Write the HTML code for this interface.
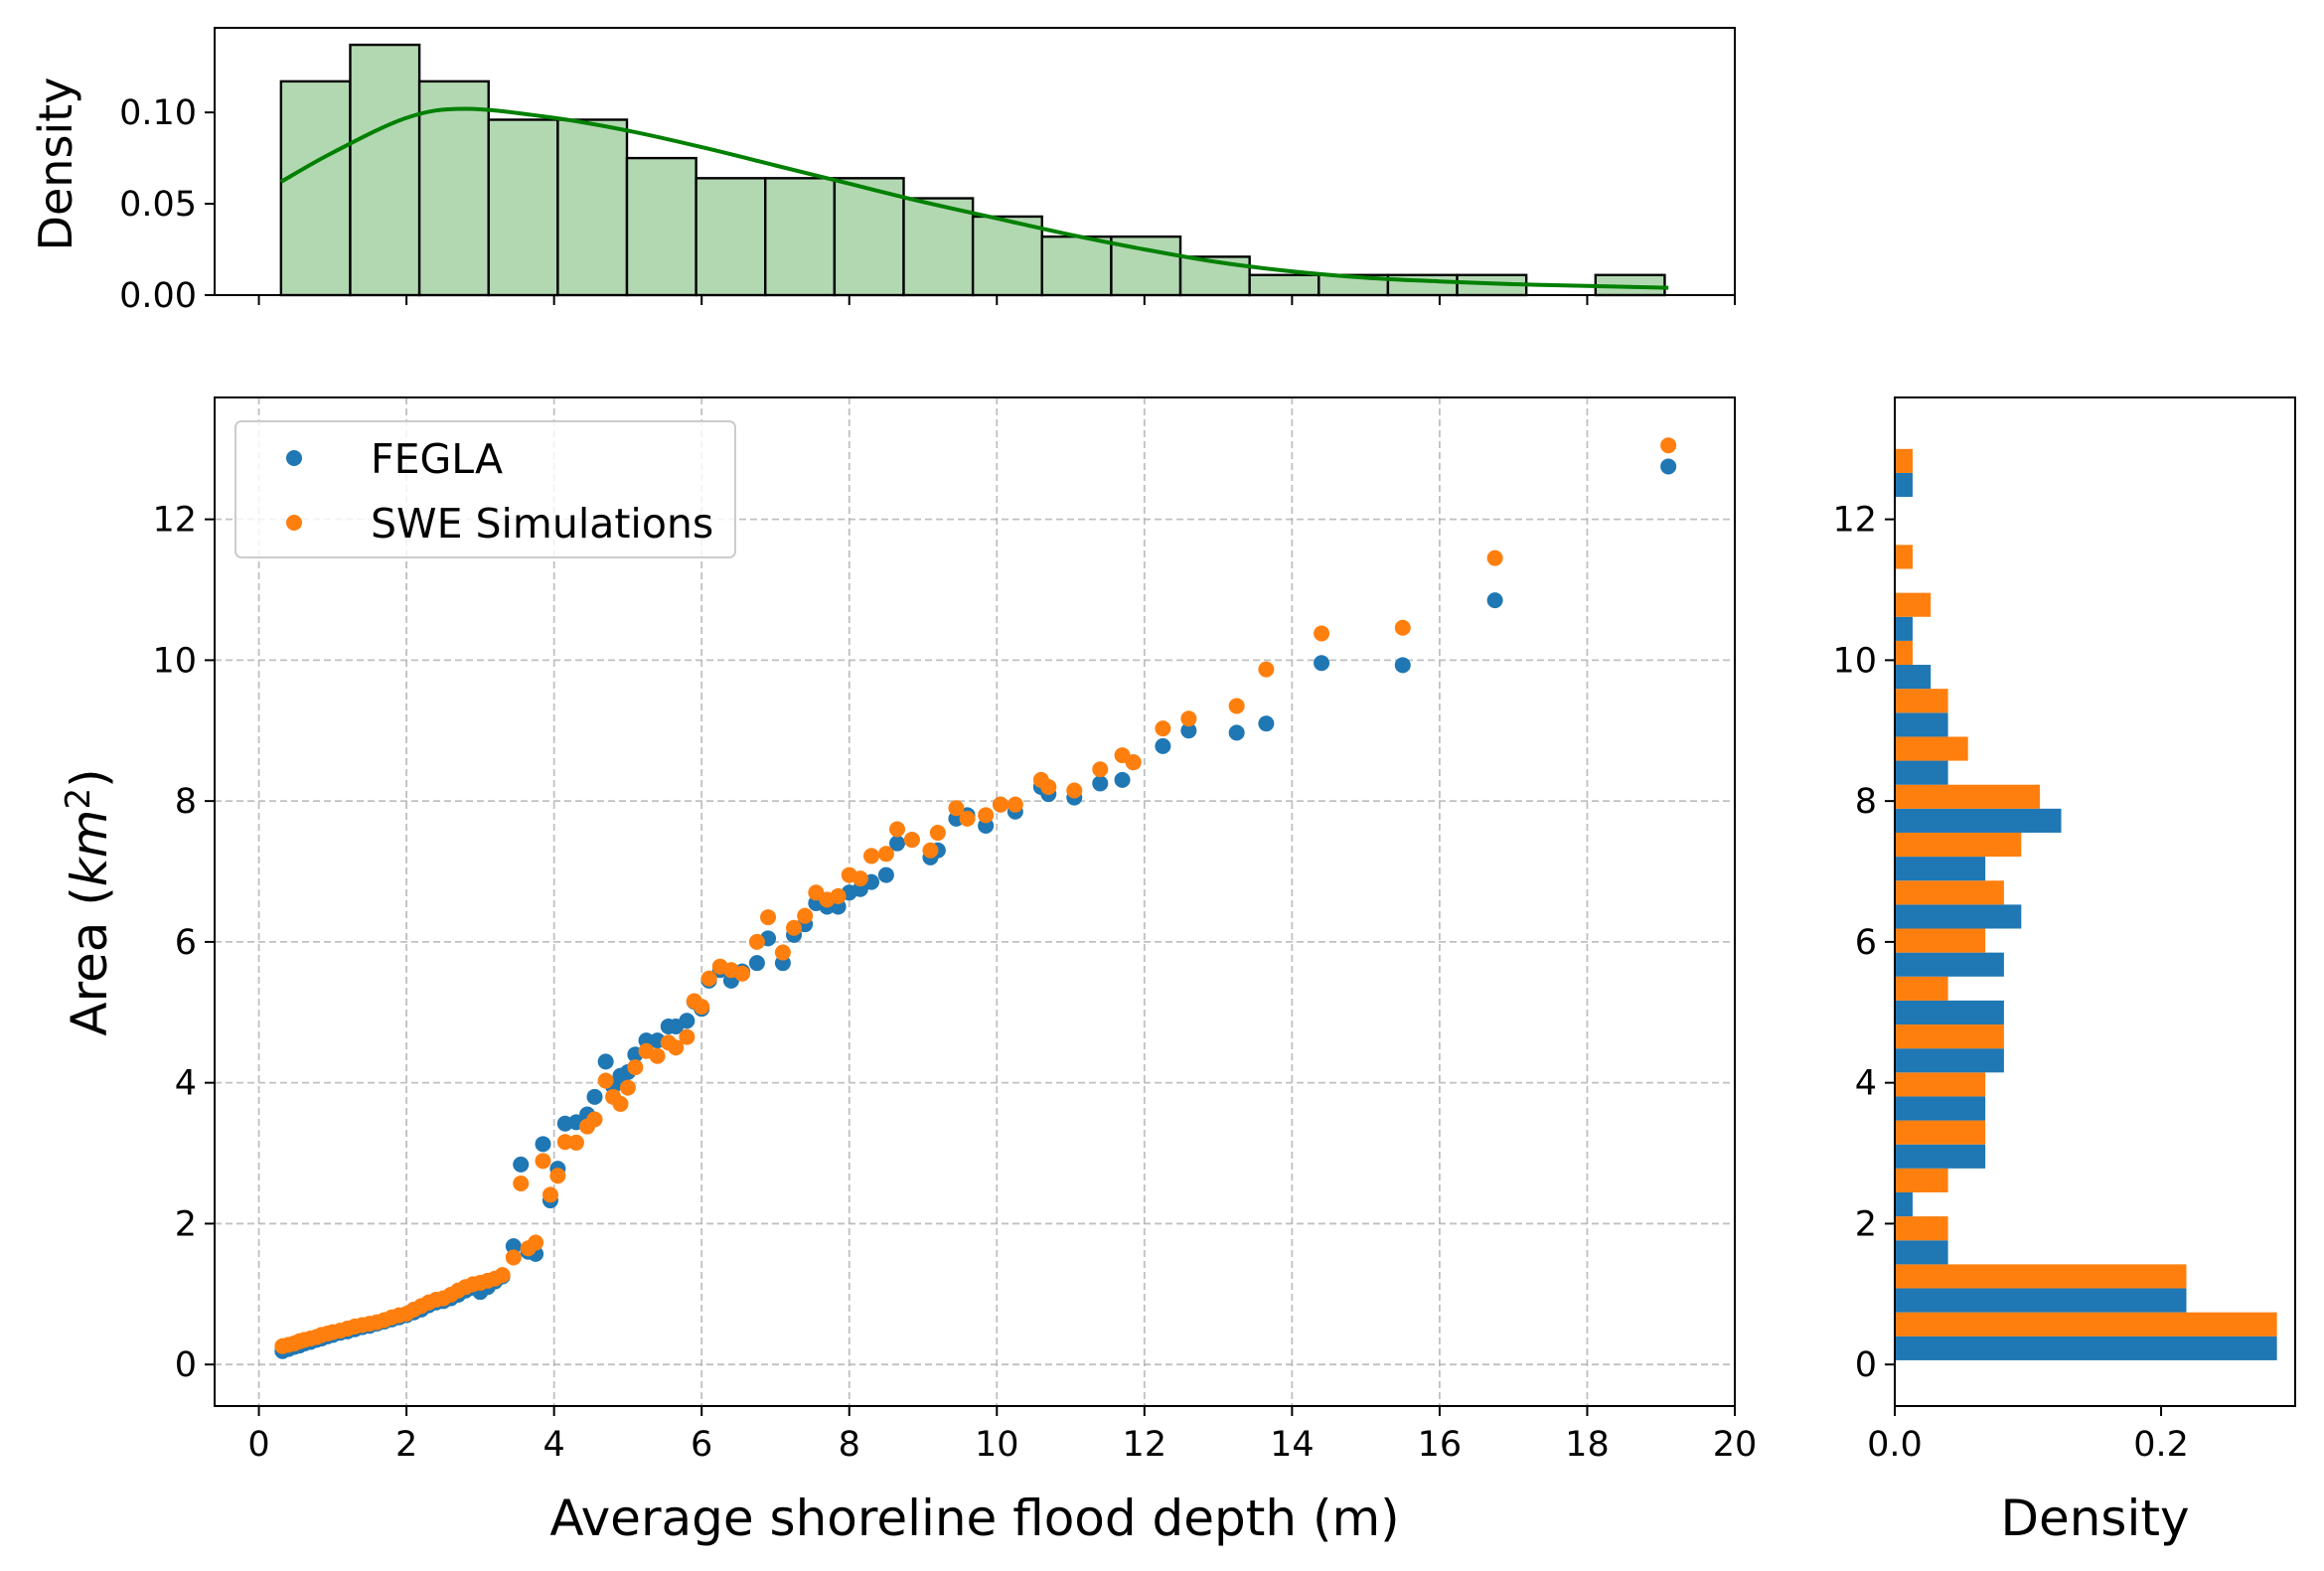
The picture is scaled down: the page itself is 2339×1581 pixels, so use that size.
<!DOCTYPE html>
<html><head><meta charset="utf-8"><style>
html,body{margin:0;padding:0;background:#fff}
svg{display:block;font-family:"DejaVu Sans","Liberation Sans",sans-serif}
</style></head><body>
<svg id="fig" width="2339" height="1581" viewBox="0 0 2339 1581" xmlns="http://www.w3.org/2000/svg">
<rect width="2339" height="1581" fill="#fff"/>
<g id="topPanel"></g>
<g id="mainPanel"></g>
<g id="rightPanel"></g>
</svg>
<script>
// ---- scatter data ----
const xDepth = [0.32,0.4,0.48,0.55,0.62,0.7,0.78,0.85,0.93,1.0,1.1,1.2,1.3,1.4,1.5,1.6,1.7,1.8,1.9,2.0,2.1,2.2,2.3,2.4,2.5,2.6,2.7,2.8,2.9,3.0,3.1,3.2,3.3,
3.45,3.55,3.65,3.75,3.85,3.95,4.05,4.15,4.3,4.45,4.55,4.7,4.8,4.9,5.0,5.1,5.25,5.4,5.55,5.65,5.8,5.9,6.0,6.1,6.25,6.4,6.55,6.75,6.9,7.1,7.25,7.4,7.55,7.7,7.85,8.0,8.15,8.3,8.5,8.65,8.85,9.1,9.2,9.45,9.6,9.85,10.05,10.25,10.6,10.7,11.05,11.4,11.7,11.85,12.25,12.6,13.25,13.65,14.4,15.5,16.75,19.1];
const areaFEGLA = [.19,.22,.25,.27,.3,.32,.35,.37,.4,.42,.45,.47,.5,.53,.55,.58,.61,.64,.67,.7,.74,.78,.84,.88,.9,.94,.99,1.05,1.09,1.03,1.1,1.18,1.25,
1.68,2.84,1.6,1.57,3.13,2.33,2.78,3.42,3.44,3.55,3.8,4.3,3.95,4.1,4.15,4.4,4.6,4.6,4.8,4.8,4.88,5.15,5.05,5.45,5.6,5.45,5.58,5.7,6.05,5.7,6.1,6.25,6.55,6.5,6.5,6.7,6.75,6.85,6.95,7.4,7.45,7.2,7.3,7.75,7.8,7.65,7.95,7.85,8.2,8.1,8.05,8.25,8.3,8.55,8.78,9.0,8.97,9.1,9.96,9.93,10.85,12.75];
const areaSWE = [.26,.28,.3,.33,.35,.37,.39,.42,.44,.46,.48,.51,.54,.56,.58,.6,.63,.67,.7,.72,.78,.83,.88,.92,.94,.99,1.05,1.1,1.14,1.16,1.19,1.22,1.27,
1.52,2.57,1.65,1.73,2.89,2.41,2.68,3.16,3.15,3.38,3.48,4.03,3.8,3.7,3.93,4.22,4.45,4.38,4.57,4.5,4.65,5.16,5.08,5.48,5.65,5.6,5.55,6.0,6.35,5.85,6.2,6.37,6.7,6.6,6.65,6.95,6.9,7.22,7.25,7.6,7.45,7.3,7.55,7.9,7.75,7.8,7.95,7.95,8.3,8.2,8.15,8.45,8.65,8.55,9.03,9.17,9.35,9.87,10.38,10.46,11.45,13.05];
const xTicks = [0,2,4,6,8,10,12,14,16,18,20];
const yTicks = [0,2,4,6,8,10,12];
// ---- top histogram data ----
const topBinStart = 0.3, topBinWidth = 0.9375;
const topDensity = [0.117,0.137,0.117,0.096,0.096,0.075,0.064,0.064,0.064,0.053,0.043,0.032,0.032,0.021,0.011,0.011,0.011,0.011,0,0.011];
const kdeX = [0.3,1,2,2.8,4,5,6,7,8,9,10,11,12,13,14,15,16,17,18,19.1];
const kdeY = [0.062,0.078,0.097,0.102,0.097,0.09,0.081,0.071,0.061,0.051,0.042,0.033,0.025,0.018,0.013,0.0095,0.0075,0.006,0.005,0.004];
const topYTicks = [0,0.05,0.10];
const topYLabels = ["0.00","0.05","0.10"];
// ---- right histogram data ----
const rBinStart = 0.06, rBinWidth = 0.681;
const rFEGLA = [0.287,0.219,0.040,0.0134,0.068,0.068,0.082,0.082,0.082,0.095,0.068,0.125,0.040,0.040,0.027,0.0134,0,0,0.0134];
const rSWE   = [0.287,0.219,0.040,0.040,0.068,0.068,0.082,0.040,0.068,0.082,0.095,0.109,0.055,0.040,0.0134,0.027,0.0134,0,0.0134];
const rXTicks = [0,0.2];
const rXLabels = ["0.0","0.2"];

const NS="http://www.w3.org/2000/svg";
function mk(parent,tag,attrs,text){const e=document.createElementNS(NS,tag);for(const k in attrs)e.setAttribute(k,attrs[k]);if(text!==undefined)e.textContent=text;parent.appendChild(e);return e;}

const MX0=216,MX1=1746,MY0=400,MY1=1415;
const xmin=-0.6,xmax=20,ymin=-0.59,ymax=13.73;
const sx=v=>MX0+(v-xmin)/(xmax-xmin)*(MX1-MX0);
const sy=v=>MY1-(v-ymin)/(ymax-ymin)*(MY1-MY0);
const TY0=28,TY1=297,tymax=0.1463;
const ty=v=>TY1-v/tymax*(TY1-TY0);
const RX0=1907,RX1=2310,rxmax=0.3007;
const rx=v=>RX0+v/rxmax*(RX1-RX0);

const FS=35, LFS=50, GFS=41;
// ===== main scatter =====
const mainG=document.getElementById('mainPanel');
xTicks.forEach(t=>{
  const l=mk(mainG,'line',{x1:sx(t),x2:sx(t),y1:MY0,y2:MY1,stroke:'#b0b0b0','stroke-width':1.8,'stroke-dasharray':'7,4','stroke-opacity':0.8});
  
  
  mk(mainG,'line',{x1:sx(t),x2:sx(t),y1:MY1,y2:MY1+10,stroke:'#000','stroke-width':2});
  const tx=mk(mainG,'text',{x:sx(t),y:MY1+50,'font-size':FS,'text-anchor':'middle'},String(t));
  
  
});
yTicks.forEach(t=>{
  const l=mk(mainG,'line',{x1:MX0,x2:MX1,y1:sy(t),y2:sy(t),stroke:'#b0b0b0','stroke-width':1.8,'stroke-dasharray':'7,4','stroke-opacity':0.8});
  
  
  mk(mainG,'line',{x1:MX0-10,x2:MX0,y1:sy(t),y2:sy(t),stroke:'#000','stroke-width':2});
  const tx=mk(mainG,'text',{x:MX0-18,y:sy(t)+12,'font-size':FS,'text-anchor':'end'},String(t));
  
  
});
xDepth.forEach((x,i)=>{
  const c=mk(mainG,'circle',{cx:sx(x),cy:sy(areaFEGLA[i]),r:8,fill:'#1f77b4'});
  
  
});
xDepth.forEach((x,i)=>{
  const c=mk(mainG,'circle',{cx:sx(x),cy:sy(areaSWE[i]),r:8,fill:'#ff7f0e'});
  
  
});
mk(mainG,'rect',{x:MX0,y:MY0,width:MX1-MX0,height:MY1-MY0,fill:'none',stroke:'#000','stroke-width':2});
const leg=mk(mainG,'g',{});


mk(leg,'rect',{x:237,y:424,width:503,height:137,rx:6,fill:'#fff','fill-opacity':0.8,stroke:'#ccc','stroke-width':2});
mk(leg,'circle',{cx:296,cy:461,r:8,fill:'#1f77b4'});
const l1=mk(leg,'text',{x:373,y:476,'font-size':GFS},'FEGLA');


mk(leg,'circle',{cx:296,cy:526,r:8,fill:'#ff7f0e'});
const l2=mk(leg,'text',{x:373,y:541,'font-size':GFS},'SWE Simulations');


const xl=mk(mainG,'text',{x:(MX0+MX1)/2,y:1545,'font-size':LFS,'text-anchor':'middle'},'Average shoreline flood depth (m)');


const yl=mk(mainG,'text',{x:0,y:0,'font-size':LFS,'text-anchor':'middle',transform:'translate(107,908) rotate(-90)'});


yl.innerHTML='Area (<tspan font-style="italic">km</tspan><tspan dy="-17" font-size="34">2</tspan><tspan dy="17">)</tspan>';

// ===== top histogram =====
const topG=document.getElementById('topPanel');
topDensity.forEach((d,i)=>{
  if(d<=0)return;
  const x0=sx(topBinStart+i*topBinWidth),x1=sx(topBinStart+(i+1)*topBinWidth);
  const r=mk(topG,'rect',{x:x0,y:ty(d),width:x1-x0,height:TY1-ty(d),fill:'#b2d8b2',stroke:'#000','stroke-width':2.4});
  
  
});
const kp=kdeX.map((x,i)=>[sx(x),ty(kdeY[i])]);
let dpath='M'+kp[0][0].toFixed(1)+','+kp[0][1].toFixed(1);
for(let i=0;i<kp.length-1;i++){
  const p0=kp[Math.max(0,i-1)],p1=kp[i],p2=kp[i+1],p3=kp[Math.min(kp.length-1,i+2)];
  const c1=[p1[0]+(p2[0]-p0[0])/6,p1[1]+(p2[1]-p0[1])/6],c2=[p2[0]-(p3[0]-p1[0])/6,p2[1]-(p3[1]-p1[1])/6];
  dpath+='C'+c1[0].toFixed(1)+','+c1[1].toFixed(1)+' '+c2[0].toFixed(1)+','+c2[1].toFixed(1)+' '+p2[0].toFixed(1)+','+p2[1].toFixed(1);
}
const kde=mk(topG,'path',{d:dpath,fill:'none',stroke:'#008000','stroke-width':4,'stroke-linejoin':'round'});


mk(topG,'rect',{x:MX0,y:TY0,width:MX1-MX0,height:TY1-TY0,fill:'none',stroke:'#000','stroke-width':2});
xTicks.forEach(t=>mk(topG,'line',{x1:sx(t),x2:sx(t),y1:TY1,y2:TY1+10,stroke:'#000','stroke-width':2}));
topYTicks.forEach((t,i)=>{
  mk(topG,'line',{x1:MX0-10,x2:MX0,y1:ty(t),y2:ty(t),stroke:'#000','stroke-width':2});
  const tx=mk(topG,'text',{x:MX0-18,y:ty(t)+12,'font-size':FS,'text-anchor':'end'},topYLabels[i]);
  
  
});
const tl=mk(topG,'text',{x:0,y:0,'font-size':LFS-4,'text-anchor':'middle',transform:'translate(72,165) rotate(-90)'},'Density');



// ===== right histogram =====
const rightG=document.getElementById('rightPanel');
rFEGLA.forEach((d,i)=>{
  const yb=sy(rBinStart+i*rBinWidth),yt=sy(rBinStart+(i+1)*rBinWidth),ym=(yb+yt)/2;
  if(d>0){const r=mk(rightG,'rect',{x:RX0,y:ym,width:rx(d)-RX0,height:yb-ym,fill:'#1f77b4'});
  
  }
  const s=rSWE[i];
  if(s>0){const r2=mk(rightG,'rect',{x:RX0,y:yt,width:rx(s)-RX0,height:ym-yt,fill:'#ff7f0e'});
  
  }
});
mk(rightG,'rect',{x:RX0,y:MY0,width:RX1-RX0,height:MY1-MY0,fill:'none',stroke:'#000','stroke-width':2});
yTicks.forEach(t=>{
  mk(rightG,'line',{x1:RX0-10,x2:RX0,y1:sy(t),y2:sy(t),stroke:'#000','stroke-width':2});
  const tx=mk(rightG,'text',{x:RX0-18,y:sy(t)+12,'font-size':FS,'text-anchor':'end'},String(t));
  
  
});
rXTicks.forEach((t,i)=>{
  mk(rightG,'line',{x1:rx(t),x2:rx(t),y1:MY1,y2:MY1+10,stroke:'#000','stroke-width':2});
  const tx=mk(rightG,'text',{x:rx(t),y:MY1+50,'font-size':FS,'text-anchor':'middle'},rXLabels[i]);
  
  
});
const rl=mk(rightG,'text',{x:(RX0+RX1)/2,y:1545,'font-size':LFS,'text-anchor':'middle'},'Density');


</script>
</body></html>
